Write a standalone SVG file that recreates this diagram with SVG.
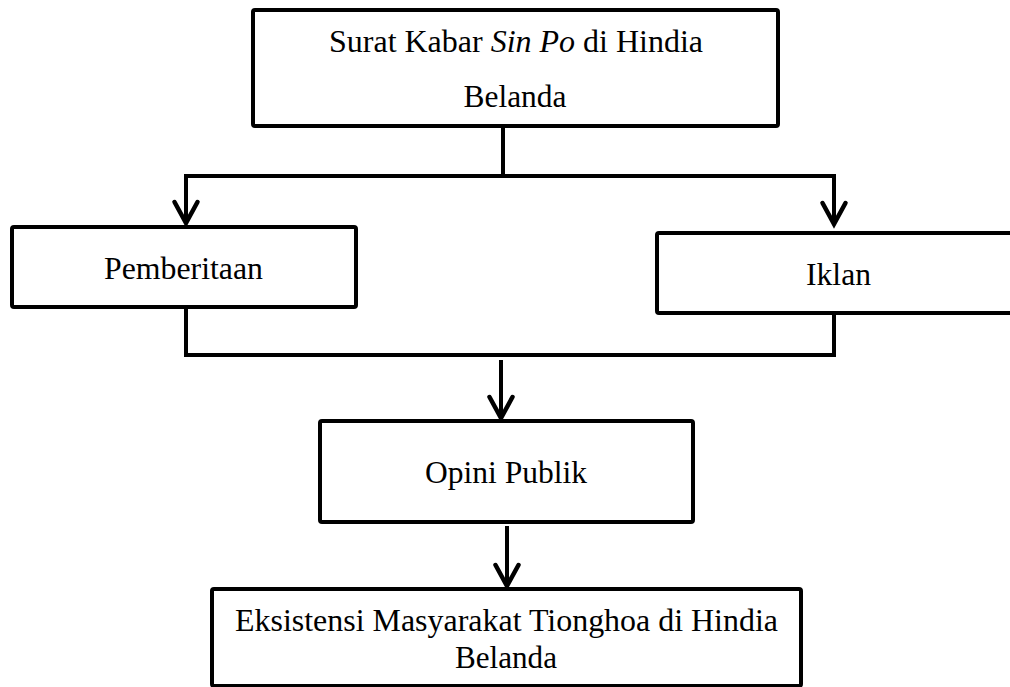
<svg xmlns="http://www.w3.org/2000/svg" width="1010" height="687" viewBox="0 0 1010 687">
<style>
.box{fill:#fff;stroke:#000;stroke-width:4;stroke-linejoin:round}
.ln{fill:none;stroke:#000;stroke-width:4}
.t{font-family:"Liberation Serif","Times New Roman",serif;font-size:31.5px;fill:#000;text-anchor:middle}
</style>
<defs>
<marker id="arr" markerUnits="userSpaceOnUse" viewBox="-26 -16 32 32" markerWidth="32" markerHeight="32" refX="0" refY="0" orient="auto" overflow="visible">
<path d="M-21,-11.5 L0,0 L-21,11.5" fill="none" stroke="#000" stroke-width="4.5" stroke-linejoin="miter" stroke-linecap="round"/>
</marker>
</defs>
<rect width="1010" height="687" fill="#fff"/>
<g id="connectors">
<path class="ln" d="M503,126 V176"/>
<path class="ln" d="M184,176 H836"/>
<path class="ln" d="M186,176 V223" marker-end="url(#arr)"/>
<path class="ln" d="M834,176 V224" marker-end="url(#arr)"/>
<path class="ln" d="M186,307 V355 H834 V313"/>
<path class="ln" d="M501,360 V418" marker-end="url(#arr)"/>
<path class="ln" d="M507,526 V586" marker-end="url(#arr)"/>
</g>
<g id="node-sinpo">
<rect class="box" x="253" y="10" width="525" height="116" rx="2"/>
<text class="t" x="516" y="52" textLength="374" lengthAdjust="spacingAndGlyphs">Surat Kabar <tspan font-style="italic">Sin Po</tspan> di Hindia</text>
<text class="t" x="515" y="107" textLength="103" lengthAdjust="spacingAndGlyphs">Belanda</text>
</g>
<g id="node-pemberitaan">
<rect class="box" x="12" y="227" width="344" height="80" rx="2"/>
<text class="t" x="183.5" y="279" textLength="159" lengthAdjust="spacingAndGlyphs">Pemberitaan</text>
</g>
<g id="node-iklan">
<rect class="box" x="657" y="233" width="360" height="80" rx="2"/>
<text class="t" x="838.5" y="285" textLength="65" lengthAdjust="spacingAndGlyphs">Iklan</text>
</g>
<g id="node-opini">
<rect class="box" x="320" y="421" width="373" height="101" rx="2"/>
<text class="t" x="506" y="483" textLength="162" lengthAdjust="spacingAndGlyphs">Opini Publik</text>
</g>
<g id="node-eksistensi">
<rect class="box" x="212" y="589" width="589" height="97" rx="2"/>
<text class="t" x="506.5" y="631" textLength="543" lengthAdjust="spacingAndGlyphs">Eksistensi Masyarakat Tionghoa di Hindia</text>
<text class="t" x="506" y="668" textLength="102" lengthAdjust="spacingAndGlyphs">Belanda</text>
</g>
</svg>
